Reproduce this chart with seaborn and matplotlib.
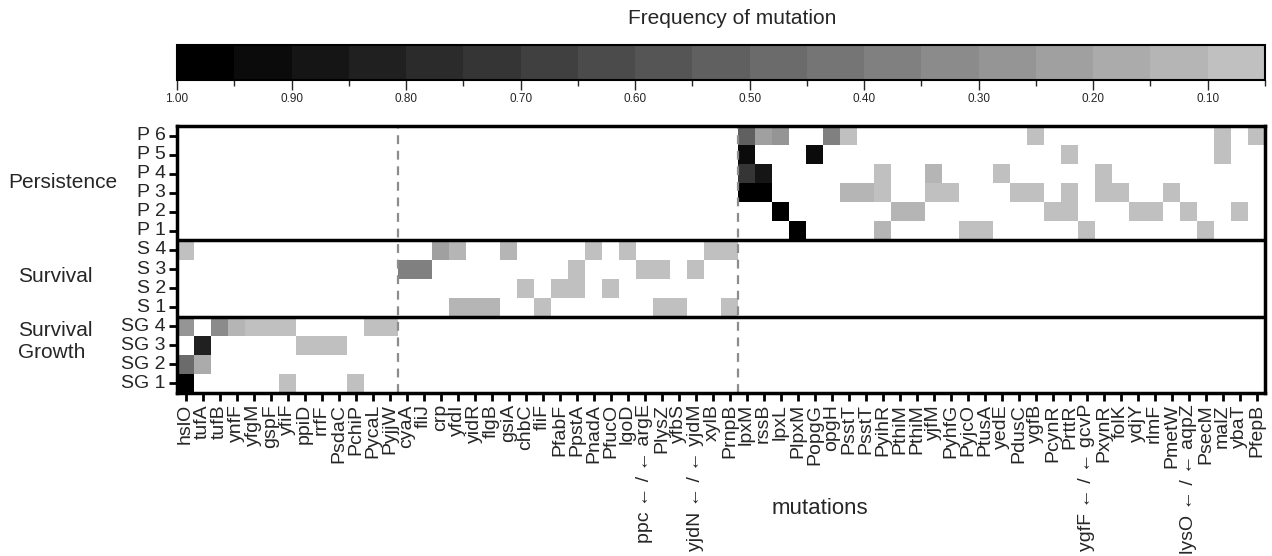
import numpy as np
import pandas as pd
import matplotlib
matplotlib.use("Agg")
import matplotlib.pyplot as plt
from matplotlib.colors import ListedColormap, BoundaryNorm
from matplotlib.ticker import FormatStrFormatter
import seaborn as sns

# ---- data -------------------------------------------------------------
genes = [
    # survival + growth
    "hslO", "tufA", "tufB", "ynfF", "yfgM", "gspF", "yfiF", "ppiD", "rrfF",
    "PsdaC", "PchiP", "PycaL", "PyjjW",
    # survival
    "cyaA", "fliJ", "crp", "yfdI", "yidR", "flgB", "gsiA", "chbC", "fliF",
    "PfabF", "PpstA", "PnadA", "PfucO", "lgoD", "ppc \u2190 / \u2190 argE",
    "PlysZ", "yfbS", "yjdN \u2190 / \u2190 yjdM", "xylB", "PrnpB",
    # persistence
    "lpxM", "rssB", "lpxL", "PlpxM", "PopgG", "opgH", "PsstT", "PsstT",
    "PyihR", "PthiM", "PthiM", "yjfM", "PyhfG", "PyjcO", "PtusA", "yedE",
    "PdusC", "ygfB", "PcynR", "PrttR", "ygfF \u2190 / \u2190 gcvP", "PxynR",
    "folK", "ydjY", "rlmF", "PmetW", "lysO \u2190 / \u2190 aqpZ", "PsecM",
    "malZ", "ybaT", "PfepB",
]

row_labels = ["P 6", "P 5", "P 4", "P 3", "P 2", "P 1",
              "S 4", "S 3", "S 2", "S 1",
              "SG 4", "SG 3", "SG 2", "SG 1"]

group_names = ["Persistence", "Survival", "Survival\nGrowth"]

# each row: 13 survival+growth genes | 20 survival genes | 31 persistence genes
P6 = ([0] * 13 + [0] * 20 +
      [0.52, 0.22, 0.27, 0, 0, 0.37, 0.08, 0, 0, 0,
       0, 0, 0, 0, 0, 0, 0, 0.08, 0, 0,
       0, 0, 0, 0, 0, 0, 0, 0, 0.08, 0,
       0.08])
P5 = ([0] * 13 + [0] * 20 +
      [0.92, 0, 0, 0, 0.92, 0, 0, 0, 0, 0,
       0, 0, 0, 0, 0, 0, 0, 0, 0, 0.08,
       0, 0, 0, 0, 0, 0, 0, 0, 0.08, 0,
       0])
P4 = ([0] * 13 + [0] * 20 +
      [0.72, 0.87, 0, 0, 0, 0, 0, 0, 0.08, 0,
       0, 0.12, 0, 0, 0, 0.08, 0, 0, 0, 0,
       0, 0.08, 0, 0, 0, 0, 0, 0, 0, 0,
       0])
P3 = ([0] * 13 + [0] * 20 +
      [0.98, 0.98, 0, 0, 0, 0, 0.12, 0.12, 0.08, 0,
       0, 0.08, 0.08, 0, 0, 0, 0.08, 0.08, 0, 0.08,
       0, 0.08, 0.08, 0, 0, 0.08, 0, 0, 0, 0,
       0])
P2 = ([0] * 13 + [0] * 20 +
      [0, 0, 0.98, 0, 0, 0, 0, 0, 0, 0.12,
       0.12, 0, 0, 0, 0, 0, 0, 0, 0.08, 0.08,
       0, 0, 0, 0.08, 0.08, 0, 0.08, 0, 0, 0.08,
       0])
P1 = ([0] * 13 + [0] * 20 +
      [0, 0, 0, 0.98, 0, 0, 0, 0, 0.12, 0,
       0, 0, 0, 0.08, 0.08, 0, 0, 0, 0, 0,
       0.08, 0, 0, 0, 0, 0, 0, 0.08, 0, 0,
       0])
S4 = ([0.08, 0, 0, 0, 0, 0, 0, 0, 0, 0, 0, 0, 0] +
      [0, 0, 0.22, 0.12, 0, 0, 0.12, 0, 0, 0,
       0, 0.08, 0, 0.08, 0, 0, 0, 0, 0.08, 0.08] +
      [0] * 31)
S3 = ([0] * 13 +
      [0.37, 0.37, 0, 0, 0, 0, 0, 0, 0, 0,
       0.08, 0, 0, 0, 0.08, 0.08, 0, 0.08, 0, 0] +
      [0] * 31)
S2 = ([0] * 13 +
      [0, 0, 0, 0, 0, 0, 0, 0.08, 0, 0.08,
       0.08, 0, 0.08, 0, 0, 0, 0, 0, 0, 0] +
      [0] * 31)
S1 = ([0] * 13 +
      [0, 0, 0, 0.12, 0.12, 0.12, 0, 0, 0.08, 0,
       0, 0, 0, 0, 0, 0.08, 0.08, 0, 0, 0.08] +
      [0] * 31)
SG4 = [0.27, 0, 0.32, 0.12, 0.08, 0.08, 0.08, 0, 0, 0, 0, 0.08, 0.08] + [0] * 20 + [0] * 31
SG3 = [0, 0.82, 0, 0, 0, 0, 0, 0.08, 0.08, 0.08, 0, 0, 0] + [0] * 20 + [0] * 31
SG2 = [0.47, 0.17, 0, 0, 0, 0, 0, 0, 0, 0, 0, 0, 0] + [0] * 20 + [0] * 31
SG1 = [0.98, 0, 0, 0, 0, 0, 0.08, 0, 0, 0, 0.08, 0, 0] + [0] * 20 + [0] * 31

rows = [P6, P5, P4, P3, P2, P1, S4, S3, S2, S1, SG4, SG3, SG2, SG1]
freq = pd.DataFrame(np.array(rows, dtype=float), index=row_labels)

# ---- style ------------------------------------------------------------
sns.set_style("white")
plt.rcParams["font.family"] = ["Liberation Sans", "DejaVu Sans"]

W, H = 1272, 556
fig = plt.figure(figsize=(W / 100, H / 100), dpi=100)


def px_box(x0, y0, x1, y1):
    return [x0 / W, 1 - y1 / H, (x1 - x0) / W, (y1 - y0) / H]


ax = fig.add_axes(px_box(177, 126, 1265, 393))
cax = fig.add_axes(px_box(177, 45, 1265, 80))

# 19 gray levels, 0.05 wide, from light gray (low) to black (high)
bounds = np.round(np.arange(0.05, 1.0001, 0.05), 2)
levels = np.linspace(192, 0, len(bounds) - 1) / 255.0
cmap = ListedColormap([(g, g, g) for g in levels])
norm = BoundaryNorm(bounds, cmap.N)

sns.heatmap(freq, ax=ax, cmap=cmap, norm=norm, mask=(freq == 0),
            xticklabels=genes, yticklabels=row_labels,
            cbar_ax=cax, cbar_kws={"orientation": "horizontal"})

# frame, group separators and column-group boundaries
for s in ax.spines.values():
    s.set_visible(True)
    s.set_linewidth(2.5)
    s.set_color("black")
ax.axhline(6, color="black", lw=2.5)
ax.axhline(10, color="black", lw=2.5)
for xv in (13, 33):
    ax.axvline(xv, color="#8c8c8c", lw=1.6, ls=(0, (4, 3)))

ax.tick_params(axis="both", direction="out", length=6, width=2,
               color="black", pad=2, bottom=True, left=True)
ax.set_xticklabels(genes, rotation=90, fontsize=14)
ax.set_yticklabels(row_labels, rotation=0, fontsize=14)
ax.set_xlabel("")
ax.set_ylabel("")

# colorbar
cb = ax.collections[0].colorbar
cb.outline.set_linewidth(1.5)
cb.outline.set_edgecolor("black")
cb.set_ticks(np.round(np.arange(0.1, 1.0001, 0.1), 2))
cax.xaxis.set_major_formatter(FormatStrFormatter("%.2f"))
cax.invert_xaxis()
cax.tick_params(axis="x", which="major", direction="out", length=7,
                width=1, labelsize=8.5, pad=2)
cax.tick_params(axis="x", which="minor", direction="out", length=4, width=1)

fig.text(732 / W, 1 - 18 / H, "Frequency of mutation", fontsize=15,
         ha="center", va="center")

# group labels on the left
fig.text(8 / W, 1 - 183 / H, group_names[0], fontsize=15, ha="left", va="center")
fig.text(18 / W, 1 - 276 / H, group_names[1], fontsize=15, ha="left", va="center")
fig.text(18 / W, 1 - 341 / H, group_names[2], fontsize=15, ha="left",
         va="center", linespacing=1.2)

fig.text(820 / W, 1 - 508 / H, "mutations", fontsize=16, ha="center", va="center")

fig.savefig("out.png", dpi=100)
